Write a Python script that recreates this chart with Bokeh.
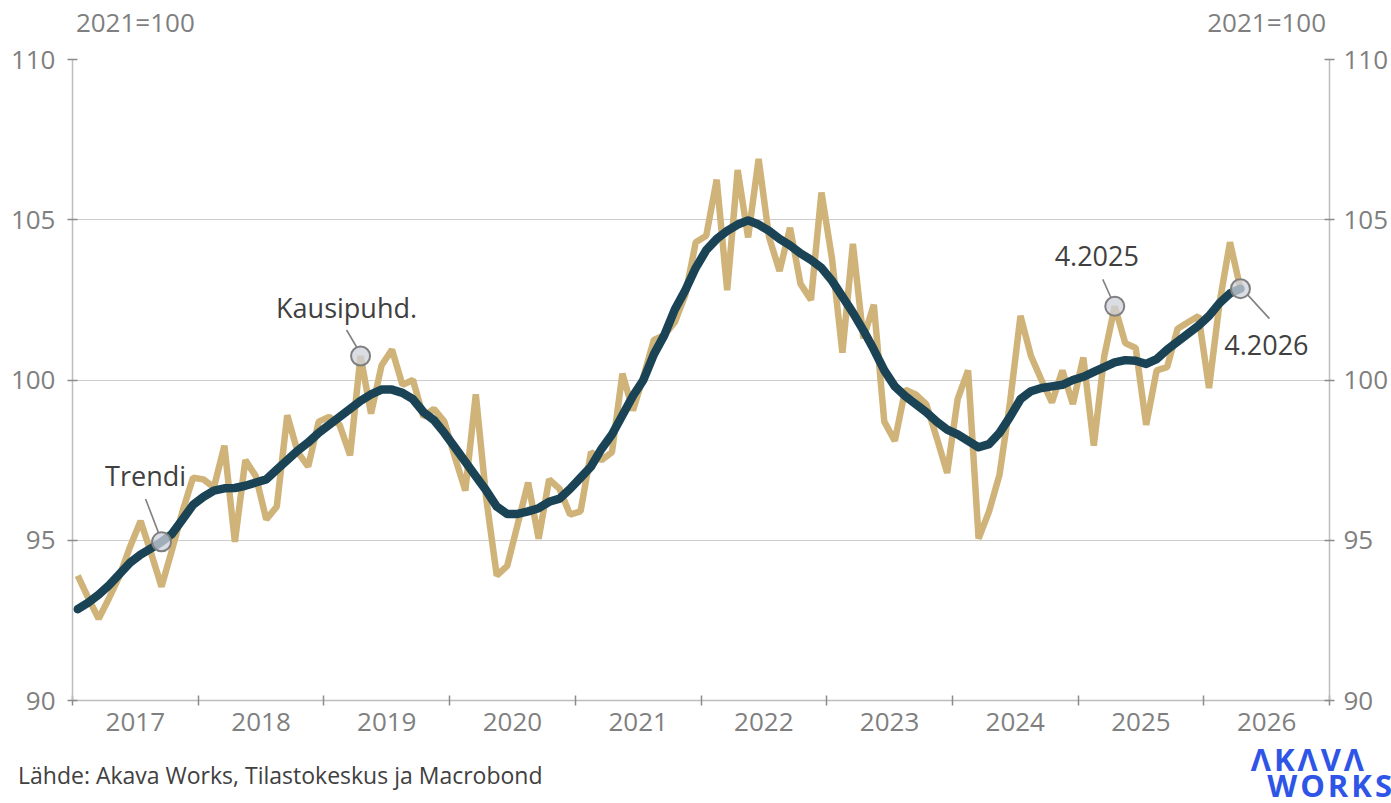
from bokeh.plotting import figure
from bokeh.layouts import column
from bokeh.models import Range1d, FixedTicker, LinearAxis, Label, CustomJSTickFormatter, Div
from bokeh.embed import file_html
from bokeh.resources import INLINE

# ---------------- data ----------------
start_year = 2017  # first observation: January 2017, monthly
seasonal = [
    93.9, 93.2, 92.55, 93.2, 93.9, 94.8, 95.6, 94.6, 93.55, 94.7, 95.9, 96.95,
    96.9, 96.65, 97.95, 94.95, 97.5, 97.0, 95.65, 96.05, 98.9, 97.75, 97.3, 98.7,
    98.85, 98.6, 97.65, 100.75, 98.95, 100.45, 100.95, 99.85, 100.0, 98.85, 99.1, 98.7,
    97.6, 96.55, 99.55, 96.3, 93.9, 94.2, 95.5, 96.8, 95.05, 96.9, 96.6, 95.8,
    95.9, 97.75, 97.5, 97.75, 100.2, 99.05, 100.1, 101.25, 101.4, 101.8, 102.65, 104.3,
    104.5, 106.25, 102.8, 106.55, 104.45, 106.9, 104.45, 103.4, 104.75, 103.0, 102.5, 105.85,
    103.8, 100.85, 104.25, 101.3, 102.35, 98.7, 98.1, 99.7, 99.55, 99.25, 98.2, 97.1,
    99.4, 100.3, 95.05, 95.9, 97.05, 99.3, 102.0, 100.75, 100.0, 99.3, 100.3, 99.25,
    100.7, 97.95, 100.75, 102.3, 101.15, 101.0, 98.6, 100.3, 100.4, 101.6, 101.8, 102.0,
    99.75, 102.4, 104.3, 102.85,
]
trend = [
    92.85, 93.05, 93.3, 93.6, 93.95, 94.3, 94.55, 94.75, 94.95, 95.2, 95.65, 96.1,
    96.35, 96.55, 96.62, 96.63, 96.7, 96.8, 96.9, 97.2, 97.5, 97.8, 98.05, 98.35,
    98.6, 98.85, 99.1, 99.35, 99.55, 99.7, 99.7, 99.6, 99.4, 99.0, 98.75, 98.35,
    97.9, 97.45, 97.0, 96.55, 96.05, 95.82, 95.82, 95.9, 96.0, 96.2, 96.3, 96.6,
    96.95, 97.3, 97.85, 98.3, 98.9, 99.5, 100.0, 100.8, 101.4, 102.2, 102.8, 103.5,
    104.05, 104.4, 104.65, 104.85, 104.98, 104.85, 104.65, 104.4, 104.2, 103.95, 103.75, 103.5,
    103.1, 102.6, 102.1, 101.55, 100.95, 100.3, 99.8, 99.5, 99.25, 99.0, 98.7, 98.45,
    98.3, 98.1, 97.9, 98.0, 98.35, 98.85, 99.4, 99.65, 99.75, 99.8, 99.85, 100.0,
    100.1, 100.25, 100.4, 100.55, 100.62, 100.6, 100.5, 100.65, 100.95, 101.2, 101.45, 101.7,
    102.0, 102.4, 102.7, 102.85,
]
year_labels = [2017, 2018, 2019, 2020, 2021, 2022, 2023, 2024, 2025, 2026]
y_ticks = [90, 95, 100, 105, 110]
unit_label = "2021=100"
source_text = "Lähde: Akava Works, Tilastokeskus ja Macrobond"
logo_top = "ΛKΛVΛ"
logo_bottom = "WORKS"

# annotations: (text, series name, index of observation)
annotations = [
    ("Trendi", "trend", 8),
    ("Kausipuhd.", "seasonal", 27),
    ("4.2025", "seasonal", 99),
    ("4.2026", "trend", 111),
]

# ---------------- layout / style ----------------
FONT = "Open Sans"
TAN = "#cfb379"
DARK = "#1a4455"
GREY_TXT = "#7f7f7f"
DARK_TXT = "#404040"
LOGO = "#2f55e6"

W, H = 1391, 803
FRAME_L, FRAME_T, FRAME_W, FRAME_H = 72, 58, 1259, 642  # page px
MAIN_H = 745
FOOT_H = H - MAIN_H

X0, X1 = year_labels[0], year_labels[-1] + 1
Y0, Y1 = y_ticks[0], y_ticks[-1]
PX_X = FRAME_W / (X1 - X0)
PX_Y = FRAME_H / (Y1 - Y0)


def offset(x, y, dx, dy):
    """shift a data point by screen pixels (dy positive = down)"""
    return x + dx / PX_X, y - dy / PX_Y


p = figure(width=W, height=MAIN_H, x_range=Range1d(X0, X1), y_range=Range1d(Y0, Y1),
           output_backend="svg", toolbar_location=None,
           min_border_left=FRAME_L, min_border_top=FRAME_T,
           min_border_right=W - FRAME_L - FRAME_W,
           min_border_bottom=MAIN_H - FRAME_T - FRAME_H)
p.outline_line_color = None
p.background_fill_color = "white"
p.border_fill_color = "white"

xs = [start_year + (i + 0.5) / 12 for i in range(len(seasonal))]
p.line(xs, seasonal, line_color=TAN, line_width=6.5, line_join="bevel")
p.line(xs, trend, line_color=DARK, line_width=8.5, line_join="round", line_cap="round")

xa = p.xaxis[0]
xa.ticker = FixedTicker(ticks=[y + 0.5 for y in year_labels],
                        minor_ticks=list(range(X0, X1 + 1)))
xa.formatter = CustomJSTickFormatter(code="return String(Math.floor(tick));")
xa.major_tick_in = 0
xa.major_tick_out = 0
xa.minor_tick_in = 5
xa.minor_tick_out = 5
xa.minor_tick_line_color = "#8c8c8c"
xa.minor_tick_line_width = 1.5
xa.axis_line_color = "#bdbdbd"
xa.axis_line_width = 1.5
xa.major_label_text_font = FONT
xa.major_label_text_font_size = "26px"
xa.major_label_text_color = GREY_TXT
xa.major_label_standoff = 7

p.xgrid.visible = False
p.ygrid.ticker = FixedTicker(ticks=y_ticks)
p.ygrid.grid_line_color = "#cccccc"
p.ygrid.grid_line_width = 1.2

ya = p.yaxis[0]
ra = LinearAxis()
p.add_layout(ra, "right")
for ax, standoff in ((ya, 12), (ra, 9)):
    ax.ticker = FixedTicker(ticks=y_ticks, minor_ticks=[])
    ax.major_tick_in = 5
    ax.major_tick_out = 5
    ax.major_tick_line_color = "#8c8c8c"
    ax.major_tick_line_width = 1.5
    ax.minor_tick_line_color = None
    ax.axis_line_color = "#bdbdbd"
    ax.axis_line_width = 1.5
    ax.major_label_text_font = FONT
    ax.major_label_text_font_size = "26px"
    ax.major_label_text_color = GREY_TXT
    ax.major_label_standoff = standoff

# unit labels above the frame, over the first and last year
unit_axis = LinearAxis(
    ticker=FixedTicker(ticks=[year_labels[0] + 0.5, year_labels[-1] + 0.5], minor_ticks=[]),
    formatter=CustomJSTickFormatter(code="return '%s';" % unit_label),
    axis_line_color=None, major_tick_line_color=None, minor_tick_line_color=None,
    major_tick_in=0, major_tick_out=0,
    major_label_text_font=FONT, major_label_text_font_size="26px",
    major_label_text_color=GREY_TXT, major_label_standoff=20)
p.add_layout(unit_axis, "above")

series = {"seasonal": seasonal, "trend": trend}
# screen offsets (px): leader start, leader end, label centre
ann_offsets = {
    "Trendi": ((-3, -9), (-16, -43), (-16, -66)),
    "Kausipuhd.": ((-4, -9), (-14, -26), (-14, -49)),
    "4.2025": ((-4, -9), (-12, -27), (-18, -50)),
    "4.2026": ((7, 6), (29, 30), (26, 56)),
}
for text, name, idx in annotations:
    px_, py_ = xs[idx], series[name][idx]
    s0, s1, lc = ann_offsets[text]
    ax0, ay0 = offset(px_, py_, *s0)
    ax1, ay1 = offset(px_, py_, *s1)
    p.segment(x0=[ax0], y0=[ay0], x1=[ax1], y1=[ay1], line_color="#808080", line_width=1.6)
    p.scatter([px_], [py_], size=19, fill_color="#cdd2db", fill_alpha=0.75,
              line_color="#7f7f7f", line_width=2)
    tx, ty = offset(px_, py_, *lc)
    p.add_layout(Label(x=tx, y=ty, text=text, text_align="center", text_baseline="middle",
                       text_font=FONT, text_font_size="27px", text_color=DARK_TXT))

# ---- footer: source + logo ----
base = ("position:absolute;white-space:nowrap;margin:0;padding:0;"
        "font-family:'%s';" % FONT)
foot_html = (
    '<div style="position:relative;width:%dpx;height:%dpx;overflow:visible;">' % (W, FOOT_H)
    + '<span style="%sline-height:1;left:13px;top:14px;font-size:23px;color:%s;">%s</span>'
    % (base, DARK_TXT, source_text)
    + '<div style="%sdisplay:block;text-align:right;line-height:26px;right:1px;top:-4px;'
      'font-size:31px;font-weight:bold;letter-spacing:3px;color:%s;">'
      '%s<span style="display:inline-block;width:28px;"></span><br>%s</div>'
    % (base, LOGO, logo_top, logo_bottom)
    + '</div>'
)
foot = Div(text=foot_html, width=W, height=FOOT_H)

layout = column(p, foot, spacing=0)
open("out.html", "w").write(file_html(layout, INLINE))
